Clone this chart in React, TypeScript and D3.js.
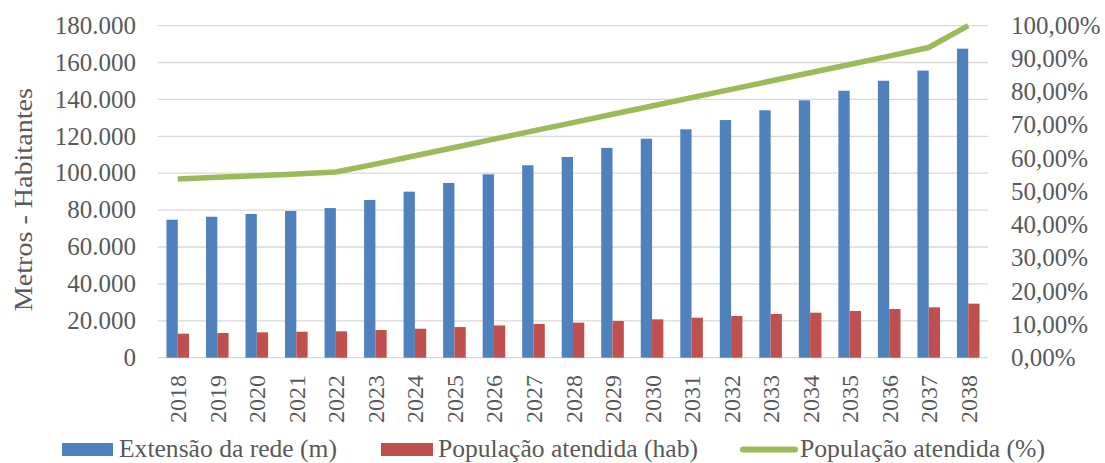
import React from 'react';
import * as d3 from 'd3';

const years = ['2018','2019','2020','2021','2022','2023','2024','2025','2026','2027','2028','2029','2030','2031','2032','2033','2034','2035','2036','2037','2038'];
const extensao = [74800, 76400, 77900, 79500, 81100, 85500, 90000, 94700, 99400, 104300, 108800, 113700, 118700, 123800, 128800, 134100, 139500, 144700, 150100, 155600, 167500];
const populacao = [13000, 13400, 13750, 14100, 14300, 15000, 15700, 16600, 17500, 18300, 19000, 19900, 20800, 21700, 22600, 23700, 24400, 25300, 26400, 27300, 29300];
const percentual = [53.8, 54.3, 54.8, 55.3, 55.9, 58.3, 60.8, 63.3, 65.8, 68.3, 70.8, 73.3, 75.8, 78.3, 80.8, 83.3, 85.8, 88.3, 90.8, 93.4, 100];
const leftTicks = [0, 20000, 40000, 60000, 80000, 100000, 120000, 140000, 160000, 180000];
const rightTicks = [0, 10, 20, 30, 40, 50, 60, 70, 80, 90, 100];
const seriesNames = ['Extensão da rede (m)', 'População atendida (hab)', 'População atendida (%)'];
const axisTitle = 'Metros - Habitantes';

const BLUE = '#4f81bd';
const RED = '#c0504d';
const GREEN = '#9bbb59';
const TEXT = '#595959';
const GRID = '#d9d9d9';
const FONT = '"Liberation Serif", "Times New Roman", serif';

const locale = d3.formatLocale({ decimal: ',', thousands: '.', grouping: [3], currency: ['R$', ''] });
const fmtLeft = locale.format(',d');
const fmtRight = (v: number) => locale.format(',.2f')(v) + '%';

export default function App() {
  const W = 1105, H = 463;
  const left = 158, right = 988, top = 25.6, bottom = 357.7;
  const x = d3.scaleBand().domain(years).range([left, right]).paddingInner(0.4286).paddingOuter(0.2143);
  const sub = d3.scaleBand().domain(['a', 'b']).range([0, x.bandwidth()]);
  const y = d3.scaleLinear().domain([0, 180000]).range([bottom, top]);
  const yR = d3.scaleLinear().domain([0, 100]).range([bottom, top]);
  const cx = (yr: string) => (x(yr) as number) + x.bandwidth() / 2;
  const line = d3.line<number>().x((_, i) => cx(years[i])).y(d => yR(d));
  const legY = 456.5;

  return (
    <svg width={W} height={H} style={{ position: 'absolute', left: 0, top: 0, background: '#fff' }} fontFamily={FONT}>
      <rect width={W} height={H} fill="#fff" />
      {leftTicks.map(t => (
        <line key={'g' + t} x1={left} x2={right} y1={y(t)} y2={y(t)} stroke={GRID} strokeWidth={1.3} />
      ))}
      {leftTicks.map(t => (
        <text key={'l' + t} x={136} y={y(t)} dy="0.33em" textAnchor="end" fontSize={25} fill={TEXT}>{fmtLeft(t)}</text>
      ))}
      {rightTicks.map(t => (
        <text key={'r' + t} x={1011} y={yR(t)} dy="0.33em" textAnchor="start" fontSize={25} fill={TEXT}>{fmtRight(t)}</text>
      ))}
      <text transform={`translate(32,${(top + bottom) / 2 + 8}) rotate(-90)`} textAnchor="middle" fontSize={25} fill={TEXT}
        textLength={223} lengthAdjust="spacingAndGlyphs">{axisTitle}</text>
      {years.map((yr, i) => (
        <g key={yr}>
          <rect x={(x(yr) as number) + (sub('a') as number)} y={y(extensao[i])} width={sub.bandwidth()} height={bottom - y(extensao[i])} fill={BLUE} />
          <rect x={(x(yr) as number) + (sub('b') as number)} y={y(populacao[i])} width={sub.bandwidth()} height={bottom - y(populacao[i])} fill={RED} />
          <text transform={`translate(${cx(yr) + 8.5},375) rotate(-90)`} textAnchor="end" fontSize={24} fill={TEXT}>{yr}</text>
        </g>
      ))}
      <path d={line(percentual) || ''} fill="none" stroke={GREEN} strokeWidth={5.5} strokeLinejoin="round" />
      <g>
        <rect x={62} y={legY - 13.5} width={51} height={13} fill={BLUE} />
        <text x={119} y={legY} fontSize={25} fill={TEXT} textLength={218} lengthAdjust="spacingAndGlyphs">{seriesNames[0]}</text>
        <rect x={381} y={legY - 13.5} width={52} height={13} fill={RED} />
        <text x={438} y={legY} fontSize={25} fill={TEXT} textLength={260} lengthAdjust="spacingAndGlyphs">{seriesNames[1]}</text>
        <line x1={743} x2={795} y1={legY - 7} y2={legY - 7} stroke={GREEN} strokeWidth={6} strokeLinecap="round" />
        <text x={800} y={legY} fontSize={25} fill={TEXT} textLength={245} lengthAdjust="spacingAndGlyphs">{seriesNames[2]}</text>
      </g>
    </svg>
  );
}
